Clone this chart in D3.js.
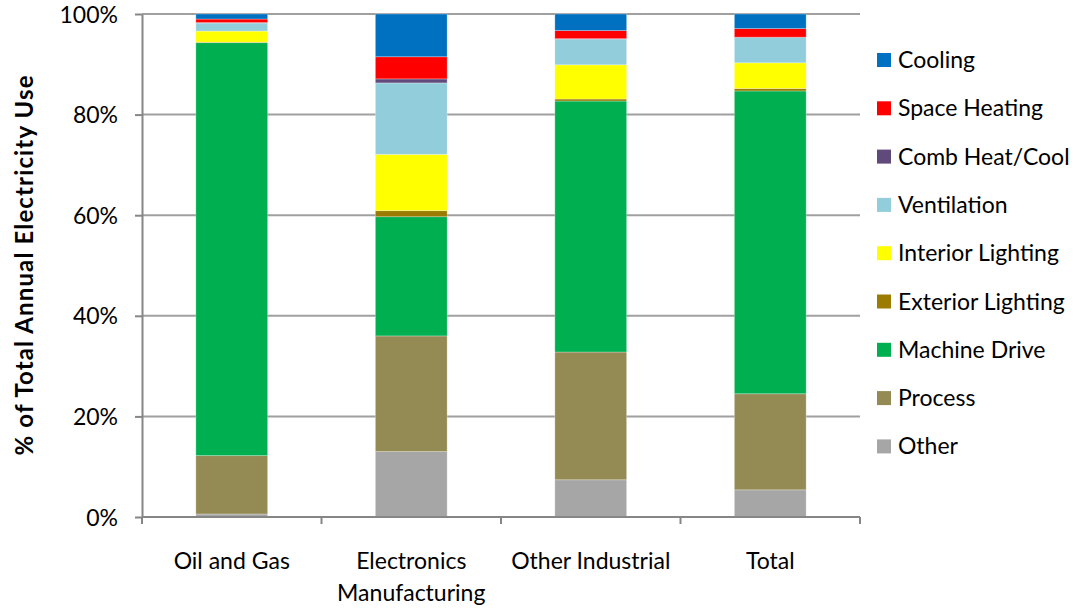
<!DOCTYPE html>
<html>
<head>
<meta charset="utf-8">
<script src="https://cdn.jsdelivr.net/npm/d3@7"></script>
<style>
  body { margin: 0; background: #fff; }
  svg { font-family: Lato, "Open Sans", sans-serif; }
</style>
</head>
<body>
<svg width="1078" height="608"></svg>
<script>
// categories along the x axis
const categories = ['Oil and Gas', 'Electronics Manufacturing', 'Other Industrial', 'Total'];

// end uses, bottom of the stack first
const endUses = ['Other', 'Process', 'Machine Drive', 'Exterior Lighting', 'Interior Lighting',
  'Ventilation', 'Comb Heat/Cool', 'Space Heating', 'Cooling'];

const colors = ['#a6a6a6', '#948a54', '#00b050', '#9c7c00', '#ffff00',
  '#92cddc', '#604a7b', '#ff0000', '#0070c0'];

// percent share of each end use, one value per category
const other          = [0.6, 13.0, 7.4, 5.4];
const process        = [11.6, 23.0, 25.4, 19.1];
const machineDrive   = [82.1, 23.7, 49.9, 60.2];
const exteriorLight  = [0.1, 1.2, 0.4, 0.5];
const interiorLight  = [2.2, 11.2, 6.8, 5.1];
const ventilation    = [1.6, 14.2, 5.1, 5.0];
const combHeatCool   = [0.1, 0.8, 0.1, 0.1];
const spaceHeating   = [0.7, 4.4, 1.6, 1.7];
const cooling        = [1.0, 8.5, 3.3, 2.9];

const yTicks = [0, 20, 40, 60, 80, 100];

const series = [other, process, machineDrive, exteriorLight, interiorLight,
  ventilation, combHeatCool, spaceHeating, cooling];

// build rows for d3.stack
const rows = categories.map((c, i) => {
  const r = { cat: c };
  endUses.forEach((u, k) => { r[u] = series[k][i]; });
  return r;
});

const svg = d3.select('svg');
const plotLeft = 142, plotRight = 860, plotTop = 14, plotBottom = 517;

const x = d3.scaleBand().domain(categories).range([plotLeft, plotRight])
  .paddingInner(0.6).paddingOuter(0.3);
const y = d3.scaleLinear().domain([0, 100]).range([plotBottom, plotTop]);

// gridlines
svg.append('g').selectAll('line')
  .data(yTicks.filter(d => d > 0))
  .enter().append('line')
  .attr('x1', plotLeft).attr('x2', plotRight)
  .attr('y1', d => y(d)).attr('y2', d => y(d))
  .attr('stroke', '#a0a0a0').attr('stroke-width', 2);

// stacked bars
const stacked = d3.stack().keys(endUses)(rows);
svg.append('g').selectAll('g')
  .data(stacked)
  .enter().append('g')
  .attr('fill', (d, i) => colors[i])
  .selectAll('rect')
  .data(d => d)
  .enter().append('rect')
  .attr('x', d => x(d.data.cat))
  .attr('width', x.bandwidth())
  .attr('y', d => y(d[1]))
  .attr('height', d => y(d[0]) - y(d[1]))
  .attr('stroke', 'rgba(255,255,255,0.35)')
  .attr('stroke-width', 0.8);

// left axis
const yAxis = svg.append('g').attr('transform', `translate(${plotLeft},0)`)
  .call(d3.axisLeft(y).tickValues(yTicks).tickFormat(d => d + '%').tickSize(7).tickSizeOuter(0));
yAxis.select('.domain').attr('stroke', '#868686').attr('stroke-width', 2);
yAxis.selectAll('.tick line').attr('stroke', '#868686').attr('stroke-width', 2);
yAxis.selectAll('.tick text').attr('font-size', 23).attr('fill', '#000')
  .attr('font-family', 'Lato, sans-serif').attr('x', -24).attr('dy', '0.35em');

// bottom axis: baseline with ticks between categories
const xb = svg.append('g');
xb.append('line').attr('x1', plotLeft).attr('x2', plotRight)
  .attr('y1', plotBottom).attr('y2', plotBottom)
  .attr('stroke', '#868686').attr('stroke-width', 2);
const step = x.step();
const bounds = d3.range(categories.length + 1).map(i => plotLeft + i * step);
xb.selectAll('.sep').data(bounds).enter().append('line')
  .attr('x1', d => d).attr('x2', d => d)
  .attr('y1', plotBottom).attr('y2', plotBottom + 7)
  .attr('stroke', '#868686').attr('stroke-width', 2);

// category labels (Electronics Manufacturing wraps to two lines)
const catLines = [['Oil and Gas'], ['Electronics', 'Manufacturing'], ['Other Industrial'], ['Total']];
categories.forEach((c, i) => {
  const t = svg.append('text')
    .attr('x', x(c) + x.bandwidth() / 2)
    .attr('y', 569)
    .attr('text-anchor', 'middle')
    .attr('font-size', 23)
    .attr('fill', '#000');
  catLines[i].forEach((ln, j) => {
    t.append('tspan').attr('x', x(c) + x.bandwidth() / 2)
      .attr('dy', j === 0 ? 0 : 32).text(ln);
  });
});

// y axis title
svg.append('text')
  .attr('transform', `translate(33,${(plotTop + plotBottom) / 2}) rotate(-90)`)
  .attr('text-anchor', 'middle')
  .attr('font-size', 24)
  .attr('font-weight', 'bold')
  .attr('fill', '#000')
  .attr('textLength', 380)
  .attr('lengthAdjust', 'spacing')
  .text('% of Total Annual Electricity Use');

// legend, top item is Cooling
const legendItems = endUses.map((u, i) => ({ name: u, color: colors[i] })).reverse();
const lg = svg.append('g').selectAll('g')
  .data(legendItems)
  .enter().append('g')
  .attr('transform', (d, i) => `translate(877,${60 + i * 48.3})`);
lg.append('rect').attr('x', 0).attr('y', -7).attr('width', 14).attr('height', 14)
  .attr('fill', d => d.color);
lg.append('text').attr('x', 21).attr('y', 8)
  .attr('font-size', 23).attr('fill', '#000')
  .text(d => d.name);
</script>
</body>
</html>
